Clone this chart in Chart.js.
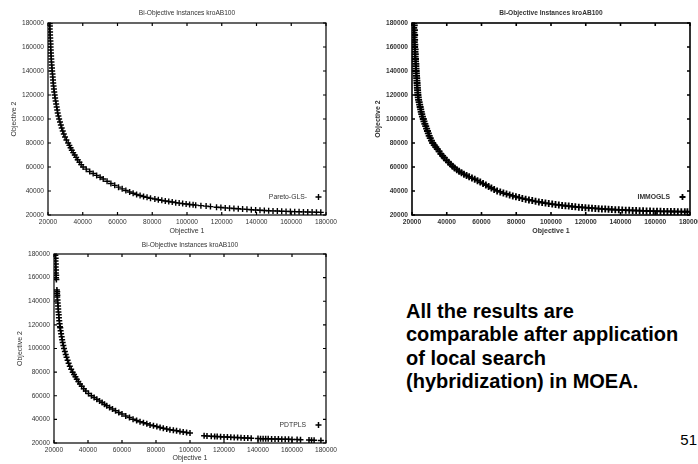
<!DOCTYPE html>
<html>
<head>
<meta charset="utf-8">
<script src="https://cdn.jsdelivr.net/npm/chart.js@4.4.1/dist/chart.umd.min.js"></script>
<style>
  html, body { margin: 0; padding: 0; background: #fff; width: 698px; height: 464px; overflow: hidden; }
  body { position: relative; }
  canvas { position: absolute; }
  #note { position: absolute; left: 406px; top: 300px; font: bold 20px "Liberation Sans", Arial, sans-serif;
          line-height: 23.3px; color: #000; white-space: nowrap; }
  #page { position: absolute; right: 1px; top: 431px; font: 15px "Liberation Sans", Arial, sans-serif; color: #000; }
</style>
</head>
<body>
<canvas id="c1" width="340" height="236" style="left:0;top:0"></canvas>
<canvas id="c2" width="360" height="236" style="left:360px;top:0"></canvas>
<canvas id="c3" width="340" height="228" style="left:0;top:236px"></canvas>
<div id="note">All the results are<br>comparable after application<br>of local search<br>(hybridization) in MOEA.</div>
<div id="page">51</div>
<script>
// Axis ranges and tick labels shared by all three plots
const axisMin = 20000;
const axisMax = 180000;
const axisStep = 20000;
const chartTitle = 'Bi-Objective Instances kroAB100';
const xTitle = 'Objective 1';
const yTitle = 'Objective 2';

// Non-dominated points (Objective 1, Objective 2) found by each method
const paretoGLS = [
  [21000,179500],[21100,177500],[21000,175000],[21200,172500],[21200,170000],[21300,167500],[21400,165000],
  [21500,162500],[21500,160000],[21600,157500],[21700,155000],[21800,152500],[21900,150000],[22000,147500],
  [22100,145000],[22300,142500],[22400,140000],[22600,137500],[22700,135000],[22900,132500],[23000,130000],
  [23200,127500],[23400,125000],[23600,122500],[23850,120000],[24100,117500],[24400,115000],[24700,112500],
  [25000,110000],[25300,107500],[25600,105000],[26000,102500],[26400,100000],[26900,97500],[27400,95000],
  [27900,92500],[28500,90000],[29100,87500],[29800,85000],[30600,82500],[31600,80000],[32300,78000],
  [33000,76000],[33700,74000],[34500,72000],[35400,70000],[36200,68000],[37100,66000],[38100,64000],
  [39100,62000],[40200,60000],[42000,58200],[44000,56300],[46000,54600],[48000,53000],[50000,51500],
  [51800,50000],[54000,48100],[56200,46300],[58400,44700],[60600,43200],[62700,41800],[64800,40400],
  [67000,39200],[69000,38100],[71000,37100],[73000,36200],[75000,35400],[77000,34700],[79000,34000],
  [81500,33300],[83500,32700],[85500,32200],[87500,31700],[89500,31200],[91500,30800],[93500,30300],
  [95500,29900],[97500,29500],[99500,29200],[101500,28800],[103500,28500],[105000,28200],[108000,27800],
  [111000,27400],[113500,27000],[117000,26500],[119500,26200],[122000,25900],[124500,25700],[127000,25400],
  [129500,25200],[132000,24900],[134500,24700],[137000,24400],[139500,24200],[142000,24000],[144500,23800],
  [147000,23600],[149500,23400],[152000,23300],[154500,23100],[157000,23000],[159500,22900],[162000,22800],
  [164500,22700],[167000,22600],[169500,22500],[172000,22400],[174500,22300],[177000,22200]
];

const immogls = [
  [20900,180000],[21300,178000],[21000,176000],[21400,174000],[21100,172000],[21500,170000],[21200,168000],
  [21500,166000],[21300,164000],[21600,162000],[21500,160000],[21800,158000],[21700,156000],[21900,154000],
  [21800,152000],[22000,150000],[22000,148000],[22200,146000],[22200,144000],[22300,142000],[22400,140000],
  [22500,138000],[22600,136000],[22700,134000],[22800,132000],[22900,130000],[23000,128000],[23100,126000],
  [23200,124000],[23300,122000],[23400,120000],[23600,118000],[23800,116000],[24100,114000],[24400,112000],
  [24700,110000],[25000,108000],[25300,106000],[25600,104000],[26000,102000],[26500,100000],[26900,98000],
  [27400,96000],[27900,94000],[28400,92000],[28900,90000],[29400,88000],[29900,86000],[30500,84000],
  [31200,82000],[31900,80000],[32800,78300],[33700,76600],[34600,74900],[35600,73000],[36600,71000],
  [37600,69200],[38600,67600],[39800,65800],[41000,64000],[42200,62300],[43300,60700],[44500,59200],
  [45800,57800],[47100,56500],[48500,55200],[49900,54000],[51400,52900],[52900,51800],[54500,50800],
  [56100,49800],[57700,48600],[59300,47400],[60900,46200],[62500,45000],[64100,43700],[65700,42500],
  [67300,41300],[69000,40100],[70800,39200],[72600,38300],[74400,37500],[76200,36700],[78000,35900],
  [79800,35200],[81700,34500],[83500,33800],[85400,33200],[87300,32600],[89200,32000],[91100,31400],
  [93000,30900],[94900,30400],[96800,29900],[98700,29500],[100700,29100],[102600,28700],[104500,28400],
  [106400,28000],[108300,27700],[110200,27400],[112100,27100],[114000,26800],[116000,26500],[117900,26300],
  [119800,26100],[121700,25900],[123600,25700],[125500,25500],[127400,25300],[129300,25100],[131200,24900],
  [133100,24700],[135000,24600],[137000,24400],[139000,24300],[141000,24200],[143000,24000],[145000,23900],
  [147000,23800],[149000,23700],[151000,23600],[153000,23500],[155000,23400],[157000,23300],[159000,23200],
  [161000,23200],[163000,23100],[165000,23000],[167000,23000],[169000,22900],[171000,22900],[173000,22800],
  [175000,22800],[177000,22700],[178500,22700]
];

const pdtpls = [
  [20800,179000],[21000,176500],[20900,174000],[21100,171500],[21000,169000],[21200,166500],[21100,164000],
  [21300,162000],[21200,160000],[21400,158500],[21700,149500],[21900,148000],[21800,146500],[22000,145000],
  [21900,143500],[22100,141000],[22200,138500],[22400,136000],[22500,133500],[22600,131000],[22800,128500],
  [22900,126000],[23100,123500],[23300,121000],[23500,118500],[23700,117500],[23900,115000],[24200,112500],
  [24500,110000],[24800,107500],[25100,105000],[25500,102500],[25900,100000],[26400,97500],[26900,95000],
  [27400,92500],[28000,90000],[28600,87500],[29300,85000],[30100,82500],[31000,80000],[31800,78000],
  [32600,76000],[33400,74000],[34300,72000],[35300,70000],[36300,68000],[37500,66000],[38700,64000],
  [40300,62000],[42000,60000],[43600,58500],[45200,57000],[46800,55600],[48300,54200],[49700,52800],
  [51000,51500],[52700,50000],[54400,48700],[56200,47300],[58100,45900],[60000,44500],[62200,42900],
  [64400,41500],[66500,40200],[68600,39000],[70600,38000],[72600,37100],[74600,36200],[76500,35300],
  [78500,34600],[80500,33900],[82400,33200],[84300,32500],[86300,31800],[88200,31300],[90200,30800],
  [92100,30300],[94100,29800],[96000,29400],[98000,28900],[100000,28500],[108300,26100],[110000,25900],
  [112500,25700],[114500,25500],[116000,25400],[118000,25300],[120000,25100],[122000,25000],[124000,24900],
  [126000,24700],[128000,24600],[130000,24400],[132000,24300],[134000,24200],[136000,24100],[140000,23800],
  [141500,23700],[143000,23600],[144500,23700],[146000,23500],[148000,23400],[150000,23300],[152000,23300],
  [154000,23200],[156000,23100],[158000,23100],[160000,23000],[163000,22900],[165000,22800],[170000,22500],
  [171500,22400],[173000,22400],[177000,22200]
];

const FONT = '"Liberation Sans", Arial, Helvetica, sans-serif';

// Draws the gnuplot-style frame: box, inward mirrored ticks, titles and key
const framePlugin = {
  id: 'frame',
  afterDraw(chart, args, o) {
    const { ctx, chartArea: a } = chart;
    const xs = chart.scales.x, ys = chart.scales.y;
    ctx.save();
    ctx.strokeStyle = '#000';
    ctx.lineWidth = o.lineWidth;
    ctx.strokeRect(a.left, a.top, a.right - a.left, a.bottom - a.top);
    const len = 3;
    ctx.beginPath();
    xs.ticks.forEach(t => {
      const px = xs.getPixelForValue(t.value);
      ctx.moveTo(px, a.bottom); ctx.lineTo(px, a.bottom - len);
      ctx.moveTo(px, a.top); ctx.lineTo(px, a.top + len);
    });
    ys.ticks.forEach(t => {
      const py = ys.getPixelForValue(t.value);
      ctx.moveTo(a.left, py); ctx.lineTo(a.left + len, py);
      ctx.moveTo(a.right, py); ctx.lineTo(a.right - len, py);
    });
    ctx.stroke();

    const weight = o.bold ? 'bold ' : '';
    ctx.fillStyle = '#333';
    ctx.textBaseline = 'middle';
    ctx.textAlign = 'center';
    ctx.font = weight + '6.6px ' + FONT;
    ctx.fillText(chartTitle, (a.left + a.right) / 2, a.top - o.titleGap);
    ctx.font = weight + '7px ' + FONT;
    ctx.fillText(xTitle, (a.left + a.right) / 2, a.bottom + o.xTitleGap);
    ctx.save();
    ctx.translate(o.yTitleX, (a.top + a.bottom) / 2);
    ctx.rotate(-Math.PI / 2);
    ctx.fillText(yTitle, 0, 0);
    ctx.restore();

    // key
    const ky = a.bottom - 18;
    ctx.textAlign = 'right';
    ctx.font = weight + '6.8px ' + FONT;
    ctx.fillText(o.key, a.right - o.keyTextGap, ky);
    const kx = a.right - 7.5;
    ctx.lineWidth = o.markWidth;
    ctx.beginPath();
    ctx.moveTo(kx - 3, ky); ctx.lineTo(kx + 3, ky);
    ctx.moveTo(kx, ky - 3); ctx.lineTo(kx, ky + 3);
    ctx.stroke();
    ctx.restore();
  }
};

function makeChart(id, points, cfg) {
  const weight = cfg.bold ? 'bold' : 'normal';
  const tickFont = { family: FONT, size: 6.6, weight };
  return new Chart(document.getElementById(id), {
    type: 'scatter',
    data: {
      datasets: [{
        data: points.map(p => ({ x: p[0], y: p[1] })),
        pointStyle: 'cross',
        pointRadius: cfg.radius,
        borderColor: '#000',
        backgroundColor: '#000',
        borderWidth: cfg.markWidth
      }]
    },
    options: {
      responsive: false,
      animation: false,
      events: [],
      layout: { padding: { top: cfg.top, right: cfg.right, bottom: 0, left: 0 } },
      plugins: {
        legend: { display: false },
        tooltip: { enabled: false },
        frame: {
          lineWidth: cfg.frameWidth, bold: cfg.bold, titleGap: cfg.titleGap,
          xTitleGap: cfg.xTitleGap, yTitleX: cfg.yTitleX, key: cfg.key,
          keyTextGap: cfg.keyTextGap, markWidth: cfg.markWidth
        }
      },
      scales: {
        x: {
          type: 'linear', min: axisMin, max: axisMax,
          grid: { display: false, drawTicks: false }, border: { display: false },
          ticks: { stepSize: axisStep, autoSkip: false, maxRotation: 0, padding: 3,
                   font: tickFont, color: '#333', callback: v => String(v) },
          afterFit: s => { s.height = cfg.xHeight; }
        },
        y: {
          type: 'linear', min: axisMin, max: axisMax,
          grid: { display: false, drawTicks: false }, border: { display: false },
          ticks: { stepSize: axisStep, autoSkip: false, padding: 4,
                   font: tickFont, color: '#333', callback: v => String(v) },
          afterFit: s => { s.width = cfg.yWidth; }
        }
      }
    },
    plugins: [framePlugin]
  });
}

makeChart('c1', paretoGLS, {
  top: 23, right: 14, yWidth: 48, xHeight: 21, titleGap: 10, xTitleGap: 16, yTitleX: 14,
  key: 'Pareto-GLS-', keyTextGap: 19, radius: 3, markWidth: 1.4, frameWidth: 1.2, bold: false
});
makeChart('c2', immogls, {
  top: 23, right: 30, yWidth: 52, xHeight: 21, titleGap: 10, xTitleGap: 16, yTitleX: 18,
  key: 'IMMOGLS', keyTextGap: 20, radius: 3.5, markWidth: 1.8, frameWidth: 1.6, bold: true
});
makeChart('c3', pdtpls, {
  top: 18, right: 14, yWidth: 54, xHeight: 21, titleGap: 9, xTitleGap: 15, yTitleX: 20,
  key: 'PDTPLS', keyTextGap: 20, radius: 3, markWidth: 1.5, frameWidth: 1.2, bold: false
});
</script>
</body>
</html>
